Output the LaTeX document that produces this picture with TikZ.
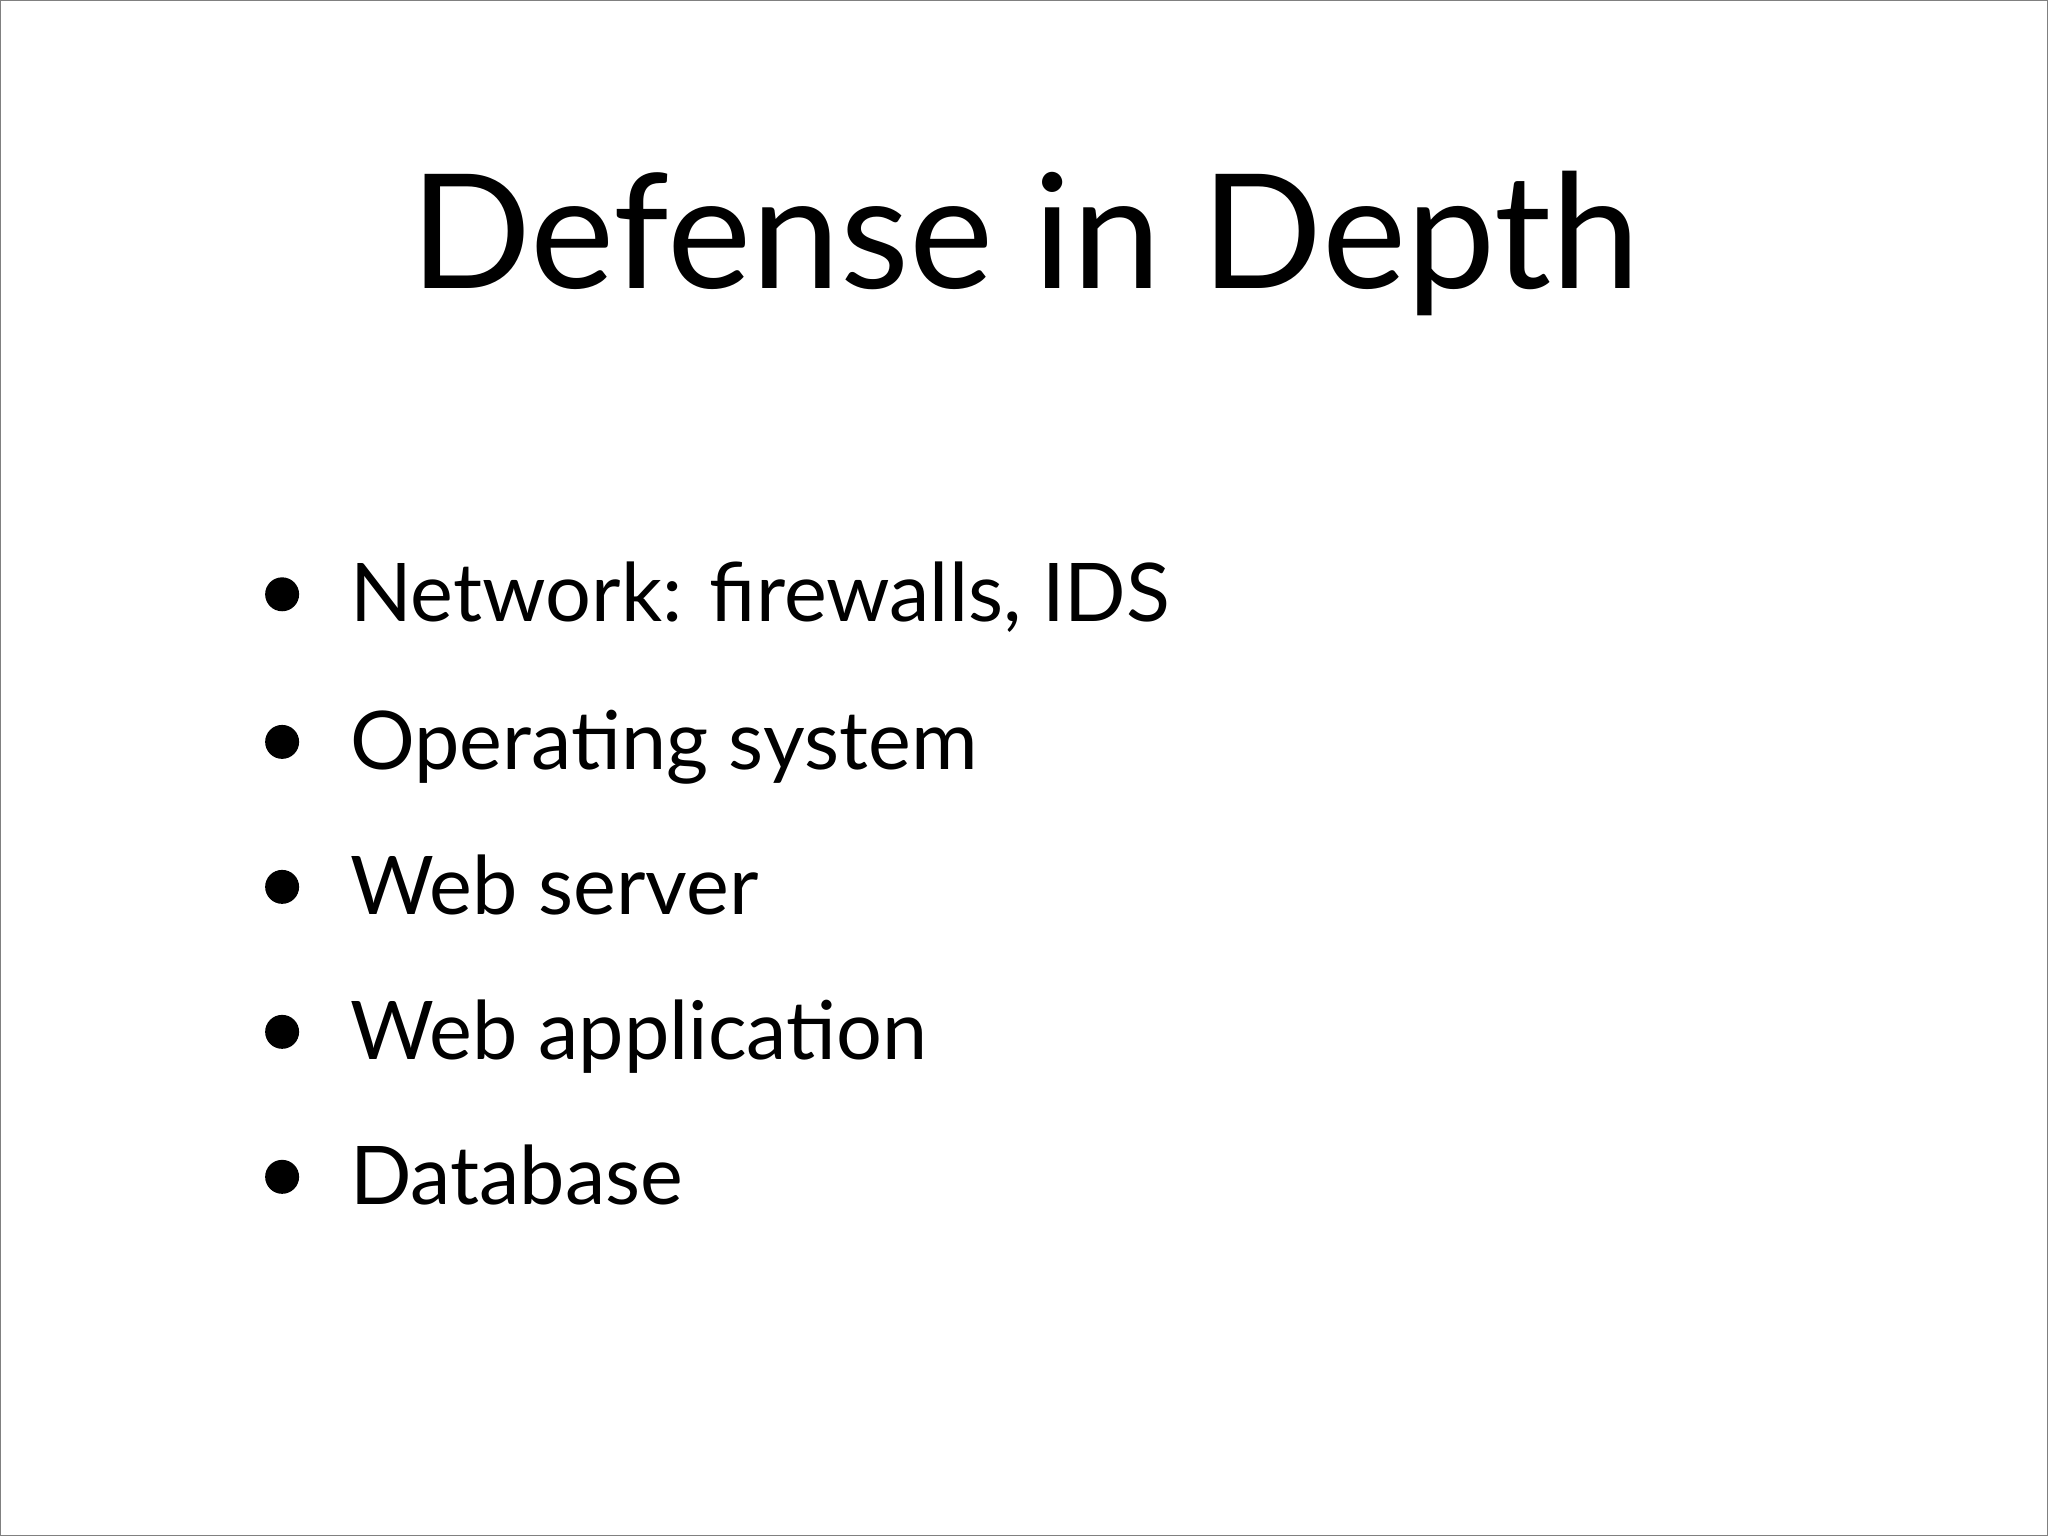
\documentclass[tikz,border=0pt]{standalone}
\usepackage{fontspec}
\setmainfont{Lato}
\begin{document}
\begin{tikzpicture}[x=1pt,y=-1pt,
  item/.style={anchor=base west,inner sep=0pt,font=\fontsize{62}{70}\selectfont},
  dot/.style={circle,fill=black,inner sep=0pt,minimum size=26pt}]
\useasboundingbox (0,0) rectangle (1568,1176);
\draw[gray,line width=1pt] (0.5,0.5) rectangle (1567.5,1175.5);
\node[anchor=base,inner sep=0pt,font=\fontsize{122}{130}\selectfont] (title) at (785,221) {Defense in Depth};
\foreach \n/\y/\t in {a/476/{Network: firewalls, IDS},b/589/{Operating system},c/700/{Web server},d/811/{Web application},e/922/{Database}}{
  \node[dot] (d\n) at (216,\y-21) {};
  \node[item] (t\n) at (268,\y) {\t};
}
\end{tikzpicture}
\end{document}
